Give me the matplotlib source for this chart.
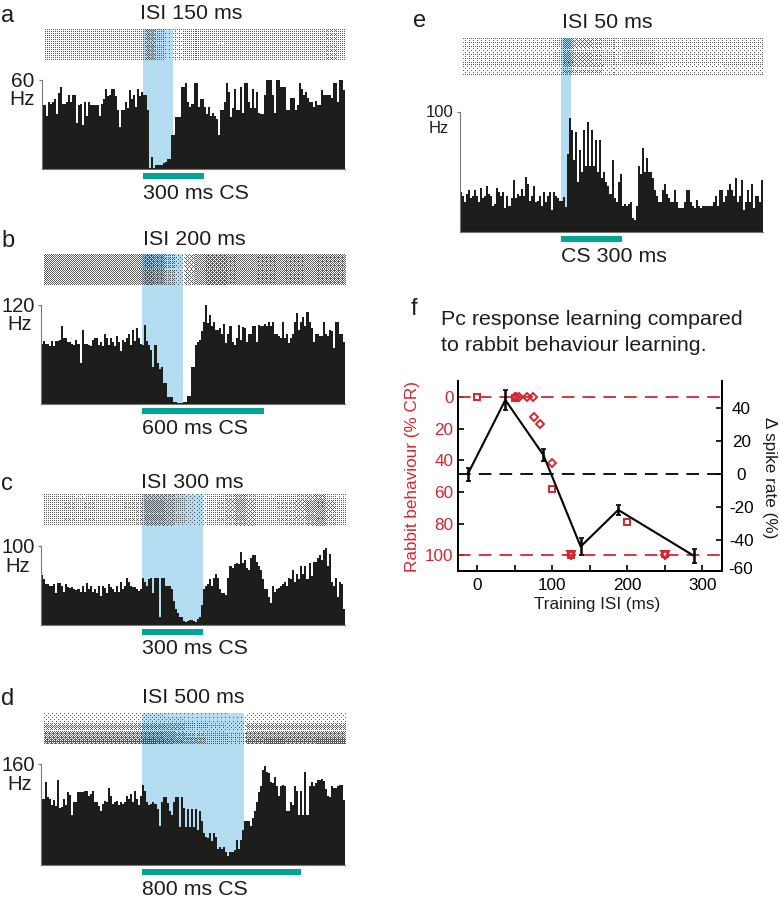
import numpy as np
import matplotlib
matplotlib.use('Agg')
from matplotlib import pyplot as plt
from matplotlib.patches import Rectangle

plt.rcParams['font.family'] = ['Liberation Sans', 'DejaVu Sans']
plt.rcParams['axes.unicode_minus'] = False

W, H = 780, 902
BLUE = '#b3dcf0'
TEAL = '#00a499'
DARK = '#1d1d1b'
RED = '#d4262e'

# PSTH values in Hz, 10 ms bins from -500 to 1000 ms
hist_a = [43,43,36,45,44,45,47,37,51,55, 44,44,45,50,45,50,50,31,43,44,
          30,45,36,45,43,43,43,43,36,44, 47,54,49,50,54,54,49,40,28,40,
          40,45,41,53,47,50,42,54,49,52, 50,50,40,0.5,8,0.5,3,3,3,3,
          4,5,7,7,23,23,35,35,35,55, 55,58,45,42,44,58,58,42,47,47,
          42,37,42,36,38,36,34,23,40,40, 45,58,52,35,41,54,40,40,55,38,
          58,58,45,41,54,41,52,38,37,37, 50,65,60,60,50,38,62,62,55,55,
          55,40,40,48,48,40,43,58,54,50, 52,48,45,45,42,46,43,43,53,50,
          50,50,50,48,58,58,45,60,60,53]
hist_b = [73,76,73,73,70,76,70,76,76,78, 95,80,80,75,75,73,71,77,73,50,
          90,73,73,72,70,78,80,80,72,75, 70,85,80,72,80,75,70,82,75,64,
          78,75,80,85,72,90,76,92,80,73, 72,96,76,72,65,45,72,50,43,45,
          25,25,8,8,8,3,3,1,1,1, 3,3,10,10,45,45,72,75,78,88,
          100,120,98,108,95,100,90,90,92,85, 97,74,85,95,75,72,80,96,78,93,
          92,75,85,85,95,95,75,96,95,95, 97,95,100,95,100,85,85,82,80,100,
          80,85,74,80,85,100,110,90,100,106, 95,112,100,92,75,85,85,82,82,100,
          85,82,90,88,68,100,100,85,85,75]
hist_c = [63,58,52,52,50,50,52,40,53,53, 50,42,52,48,47,48,46,44,45,42,
          50,42,53,45,50,42,45,40,50,37, 50,47,40,52,48,45,42,50,42,55,
          45,50,60,55,50,48,48,45,43,45, 60,55,50,58,60,40,60,60,10,60,
          60,50,50,50,45,30,20,15,10,10, 5,4,5,6,6,5,4,7,10,25,
          45,50,52,58,50,60,65,60,45,40, 40,38,60,75,72,77,78,77,93,78,
          82,72,70,85,88,88,80,75,70,58, 45,45,35,28,50,42,45,47,50,52,
          55,50,60,58,70,55,65,58,75,65, 75,58,78,62,80,80,85,88,82,95,
          97,75,90,55,50,60,35,55,52,20]
hist_d = [105,105,131,108,105,95,103,93,135,90, 92,105,95,115,111,80,100,100,115,115,
          115,118,118,110,113,118,100,100,93,85, 97,102,100,122,110,97,100,102,95,100,
          97,100,110,105,112,100,118,105,95,110, 127,118,100,95,96,100,97,88,62,100,
          108,108,98,85,80,100,108,108,60,108, 90,60,88,60,88,60,88,55,85,70,
          50,45,42,50,38,50,45,25,28,25, 28,20,15,20,20,24,40,25,40,55,
          70,70,70,62,75,85,100,115,125,150, 157,148,145,132,130,140,125,110,125,127,
          125,85,85,100,95,125,118,80,118,80, 147,80,125,132,125,130,135,135,137,133,
          120,110,108,125,122,122,125,127,127,103]
hist_e = [33,30,25,32,35,28,30,35,30,25, 37,28,30,38,32,30,22,23,37,33,
          30,33,20,30,22,28,43,28,32,30, 36,30,46,40,26,30,38,25,26,30,
          22,33,25,30,33,18,33,30,28,26, 26,29,21,65,95,85,60,83,42,68,
          50,85,55,92,55,85,55,77,50,77, 45,50,42,38,32,60,28,25,42,48,
          22,23,22,23,25,12,10,22,55,48, 70,50,62,50,50,45,35,30,25,25,
          35,40,32,28,25,25,35,25,20,20, 20,25,35,35,25,22,20,27,22,20,
          22,22,22,22,22,25,30,22,35,35, 25,30,35,40,35,30,45,25,30,43,
          18,25,35,25,40,20,30,30,25,43]

# raster darkness read by eye: one value per 50 ms column, one factor per row band
rast_a = [.27,.28,.27,.26,.28,.27,.28,.27,.28,.26, .45,.22,.08,.18,.25,.28,.28,.24,.27,.28,
          .26,.27,.28,.26,.28,.27,.28,.27,.30,.28]
rast_b = [.50,.52,.50,.48,.50,.52,.50,.50,.50,.52, .60,.55,.30,.10,.35,.50,.60,.60,.58,.52,
          .50,.55,.55,.52,.55,.55,.52,.55,.55,.55]
rast_c = [.28,.28,.30,.26,.30,.28,.26,.28,.30,.32, .50,.50,.40,.22,.14,.12, .28,.30,.38,.52,
          .40,.28,.26,.30,.32,.38,.50,.55,.35,.25]
rast_d = [.50,.50,.50,.50,.50,.50,.50,.50,.50,.50, .52,.50,.45,.42,.30,.30,.20,.20,.15,.15,
          .50,.50,.52,.52,.50,.50,.50,.52,.52,.52]
rast_e = [.20,.20,.20,.20,.20,.20,.20,.20,.20,.24, .50,.36,.36,.34,.24,.20,.22,.28,.26,.20,
          .18,.18,.18,.18,.18,.18,.20,.20,.20,.20]
rows_a = [1,1,.9,1,1,1]
rows_b = [1,1,1,1,1,1]
rows_c = [.8,1,1,.9,1,.9]
rows_d = [.2,.3,.3,.9,.9,.5,1.1,1.1,1.4,1.4]
rows_e = [1,1,.6,1,1,1.1,.5,.9]

# panel f
isi_x = [-12.4, 37.7, 88.3, 138, 188, 289]
spike = [0, 45, 11.7, -43.8, -21.6, -49.5]
spike_err = [4, 6, 3.5, 5, 3, 4]
sq_x = [0, 50, 100, 125, 200, 250]
sq_y = [0, 1, 58, 100, 79, 99]
dia_x = [50, 52, 56, 67, 75, 76, 84, 100, 125, 250]
dia_y = [0, 0, 0, 0, 0, 13, 17, 42, 100, 100]
tri_x = [125, 250]
tri_y = [100, 100]

panels = [
    dict(hist=hist_a, rast=rast_a, rows=rows_a, isi=150, cs=300, top=60, x0=42, x1=345, base=169, ytop=80,
         r0=29, r1=60, letter='a', ly=22, lx=1, title='ISI 150 ms', tx=191, ty=19, cs_txt='300 ms CS', cy=199,
         num='60', ny=87, hy=105, nx=34, hx=35, fs=15),
    dict(hist=hist_b, rast=rast_b, rows=rows_b, isi=200, cs=600, top=120, x0=41, x1=345, base=404, ytop=305,
         r0=254, r1=285, letter='b', ly=247, lx=1, title='ISI 200 ms', tx=194, ty=245, cs_txt='600 ms CS', cy=434,
         num='120', ny=312, hy=330, nx=35, hx=32, fs=14.5),
    dict(hist=hist_c, rast=rast_c, rows=rows_c, isi=300, cs=300, top=100, x0=41, x1=345, base=625, ytop=546,
         r0=494, r1=526, letter='c', ly=490, lx=1, title='ISI 300 ms', tx=192, ty=488, cs_txt='300 ms CS', cy=654,
         num='100', ny=553, hy=572, nx=35, hx=30, fs=14.5),
    dict(hist=hist_d, rast=rast_d, rows=rows_d, isi=500, cs=783, top=160, x0=41, x1=345, base=865, ytop=764,
         r0=713, r1=744, letter='d', ly=705, lx=1, title='ISI 500 ms', tx=193, ty=703, cs_txt='800 ms CS', cy=895,
         num='160', ny=771, hy=790, nx=35, hx=32, fs=14.5),
    dict(hist=hist_e, rast=rast_e, rows=rows_e, isi=50, cs=300, top=100, x0=460, x1=763, base=232, ytop=112,
         r0=38, r1=75, letter='e', ly=27, lx=413, title='ISI 50 ms', tx=607, ty=28, cs_txt='CS 300 ms', cy=262,
         num='100', ny=117, hy=133, nx=453, hx=449, fs=12),
]

# threshold tile, turns a darkness value into separate pixel dots
tile = (np.array([[0, 8, 2, 10], [12, 4, 14, 6], [3, 11, 1, 9], [15, 7, 13, 5]]) + 0.5) / 16


def px_axes(x0, y0, x1, y1):
    # pixel box, y counted from the top of the picture
    return fig.add_axes([x0 / W, 1 - y1 / H, (x1 - x0) / W, (y1 - y0) / H])


def label(x, y, s, **kw):
    kw.setdefault('va', 'baseline')
    fig.text(x / W, 1 - y / H, s, **kw)


fig = plt.figure(figsize=(W / 100, H / 100), dpi=100)

for p in panels:
    assert len(p['hist']) == 150
    h = p['base'] - p['ytop']
    ax = px_axes(p['x0'], p['ytop'], p['x1'], p['base'])
    ax.patch.set_visible(False)
    ax.set_xlim(-500, 1000)
    ax.set_ylim(0, p['top'])
    # blue ISI band runs from the baseline up through the raster
    ax.axvspan(0, p['isi'], ymin=0, ymax=(p['base'] - p['r0']) / h, color=BLUE, lw=0, clip_on=False, zorder=0)
    edges = np.arange(-500, 1001, 10)
    ax.stairs(p['hist'], edges, fill=True, color=DARK, lw=0, zorder=2)
    ax.add_patch(Rectangle((0, -10 / h), p['cs'], 6 / h, transform=ax.get_xaxis_transform(),
                           color=TEAL, lw=0, clip_on=False))
    for s in ['top', 'right']:
        ax.spines[s].set_visible(False)
    ax.spines['left'].set_color('#777777')
    ax.spines['bottom'].set_color('#777777')
    ax.set_xticks([])
    ax.set_yticks([p['top']])
    ax.set_yticklabels([])
    ax.tick_params(axis='y', length=2, color='#777777', width=0.8)

    # raster: the darkness table stippled to single pixels, over the blue band
    rw = p['x1'] - p['x0'] - 3
    rh = p['r1'] - p['r0']
    rx = px_axes(p['x0'] + 3, p['r0'], p['x1'], p['r1'])
    rx.axis('off')
    dens = np.outer(p['rows'], p['rast'])
    big = dens[np.arange(rh) * len(p['rows']) // rh][:, np.arange(rw) * len(p['rast']) // rw]
    mask = big > np.tile(tile, (rh // 4 + 1, rw // 4 + 1))[:rh, :rw]
    rgba = np.zeros((rh, rw, 4))
    rgba[..., :3] = 0.2
    rgba[..., 3] = mask * 0.8
    rx.imshow(rgba, aspect='auto', interpolation='nearest')

    label(p['lx'], p['ly'], p['letter'], fontsize=17, color=DARK)
    label(p['tx'], p['ty'], p['title'], fontsize=15.4, ha='center', color=DARK)
    cs_x = p['x0'] + (p['x1'] - p['x0']) / 3
    label(cs_x, p['cy'], p['cs_txt'], fontsize=15.4, color=DARK)
    label(p['nx'], p['ny'], p['num'], fontsize=p['fs'], ha='right', color=DARK)
    label(p['hx'], p['hy'], 'Hz', fontsize=p['fs'], ha='right', color=DARK)

# panel f
label(411, 315, 'f', fontsize=17, color=DARK)
label(441, 325, 'Pc response learning compared', fontsize=15.4, color=DARK)
label(441, 351, 'to rabbit behaviour learning.', fontsize=15.4, color=DARK)

ax1 = px_axes(457.7, 381, 721.7, 571)
ax1.set_xlim(-25.7, 325.7)
ax1.set_ylim(109.9, -10)
ax1.axhline(0, color=RED, lw=1.3, dashes=(7, 4.5))
ax1.axhline(100, color=RED, lw=1.3, dashes=(7, 4.5))
ax1.plot(sq_x, sq_y, ls='', marker='s', ms=5, mfc='none', mec=RED, mew=1.4, clip_on=False)
ax1.plot(dia_x, dia_y, ls='', marker='D', ms=4, mfc='none', mec=RED, mew=1.4, clip_on=False)
ax1.plot(tri_x, tri_y, ls='', marker='v', ms=6, mfc='none', mec=RED, mew=1.4, clip_on=False)
ax1.set_xticks([0, 100, 200, 300])
ax1.set_xticks([50, 150, 250], minor=True)
ax1.set_yticks([0, 20, 40, 60, 80, 100])
ax1.tick_params(axis='x', which='both', direction='in', length=4, width=1.2, labelsize=12.3, pad=5, colors='black')
ax1.tick_params(axis='y', direction='in', length=4, width=1.2, labelsize=12.3, pad=3, labelcolor=RED)

ax2 = ax1.twinx()
ax2.axhline(0, color='black', lw=1.3, dashes=(7, 4.5))
ax2.errorbar(isi_x, spike, yerr=spike_err, color='black', lw=1.5, elinewidth=1.8, capsize=1.8, capthick=1.2)
ax2.set_yticks([40, 20, 0, -20, -40])
ax2.set_ylim(-58.6, 56.5)
ax2.tick_params(axis='y', direction='in', length=4, width=1.2, labelsize=12.3, pad=14)
for t in ax2.get_yticklabels():
    t.set_ha('center')
for a in [ax1, ax2]:
    a.spines['top'].set_visible(False)
    for s in ['left', 'right', 'bottom']:
        a.spines[s].set_linewidth(1.4)

label(741, 569.5, '-60', fontsize=12.3, color='black', ha='center', va='center')
label(413, 477, 'Rabbit behaviour (% CR)', fontsize=12.3, color=RED, rotation=90, ha='center', va='center')
label(769, 478, '\u0394 spike rate (%)', fontsize=12.3, color=DARK, rotation=270, ha='center', va='center')
label(597, 604, 'Training ISI (ms)', fontsize=12.3, color=DARK, ha='center', va='center')

plt.savefig('out.png', dpi=100)
